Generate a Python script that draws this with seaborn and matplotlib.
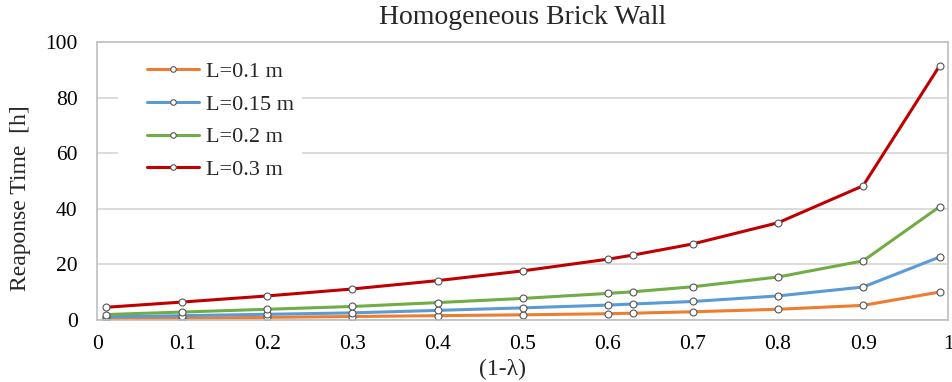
import matplotlib
matplotlib.use("Agg")
import matplotlib.pyplot as plt
import seaborn as sns
import pandas as pd
from matplotlib.lines import Line2D
from matplotlib.patches import Rectangle

x_vals = [0.01, 0.1, 0.2, 0.3, 0.4, 0.5, 0.6, 0.63, 0.7, 0.8, 0.9, 0.99]
L01 = [0.5, 0.7, 1.0, 1.3, 1.6, 1.9, 2.3, 2.5, 3.0, 3.9, 5.3, 10.1]
L015 = [1.2, 1.6, 2.1, 2.6, 3.5, 4.4, 5.4, 5.8, 6.7, 8.7, 11.9, 22.7]
L02 = [2.0, 2.9, 3.9, 4.9, 6.3, 7.8, 9.6, 10.2, 12.0, 15.5, 21.3, 40.8]
L03 = [4.6, 6.5, 8.7, 11.2, 14.2, 17.7, 21.9, 23.4, 27.4, 35.0, 48.3, 91.5]
series_names = ["L=0.1 m", "L=0.15 m", "L=0.2 m", "L=0.3 m"]
colors = ["#ED7D31", "#5B9BD5", "#70AD47", "#C00000"]
x_ticks = [0, 0.1, 0.2, 0.3, 0.4, 0.5, 0.6, 0.7, 0.8, 0.9, 1]
x_tick_labels = ["0", "0.1", "0.2", "0.3", "0.4", "0.5", "0.6", "0.7", "0.8", "0.9", "1"]
y_ticks = [0, 20, 40, 60, 80, 100]

rows = []
for name, vals in zip(series_names, [L01, L015, L02, L03]):
    for xv, yv in zip(x_vals, vals):
        rows.append({"x": xv, "y": yv, "series": name})
df = pd.DataFrame(rows)

sns.set_theme(style="white")
plt.rcParams["font.family"] = ["Liberation Serif", "DejaVu Serif"]

fig = plt.figure(figsize=(9.52, 3.82), dpi=100)
ax = fig.add_axes([0.102, 0.162, 0.894, 0.728])

sns.lineplot(data=df, x="x", y="y", hue="series", hue_order=series_names,
             palette=colors, linewidth=2.2, marker="o", markersize=5,
             markerfacecolor="white", markeredgecolor="#555555",
             markeredgewidth=0.8, ax=ax, legend=False)

ax.set_xlim(0, 1)
ax.set_ylim(0, 100)
ax.set_xticks(x_ticks)
ax.set_xticklabels(x_tick_labels)
ax.set_yticks(y_ticks)
ax.tick_params(axis="both", labelsize=15.5, length=0, colors="black")
ax.tick_params(axis="x", pad=11)
ax.tick_params(axis="y", pad=14)
ax.grid(axis="y", color="#d9d9d9", linewidth=1.3)
ax.grid(axis="x", visible=False)
ax.set_axisbelow(True)
for s in ax.spines.values():
    s.set_color("#bfbfbf")
    s.set_linewidth(1.2)

ax.set_xlabel("(1-λ)", fontsize=17)
ax.xaxis.set_label_coords(0.476, -0.178)
ax.xaxis.label.set_verticalalignment("center")
ax.set_ylabel("Reaponse Time  [h]", fontsize=17)
ax.yaxis.set_label_coords(-0.078, 0.44)
ax.set_title("Homogeneous Brick Wall", fontsize=20, pad=13)

# white backdrop behind legend (covers gridlines as in the reference)
ax.add_patch(Rectangle((0.025, 0.468), 0.216, 0.51, transform=ax.transAxes,
                       facecolor="white", edgecolor="none", zorder=1.2))

handles = [Line2D([0], [0], color=c, linewidth=2.2, marker="o", markersize=4,
                  markerfacecolor="white", markeredgecolor="#555555",
                  markeredgewidth=0.8) for c in colors]
leg = ax.legend(handles, series_names, loc="upper left",
                bbox_to_anchor=(0.035, 1.003), fontsize=16, frameon=False,
                handlelength=2.35, labelspacing=0.55, handletextpad=0.3,
                borderpad=0.4)

fig.savefig("out.png", dpi=100)
